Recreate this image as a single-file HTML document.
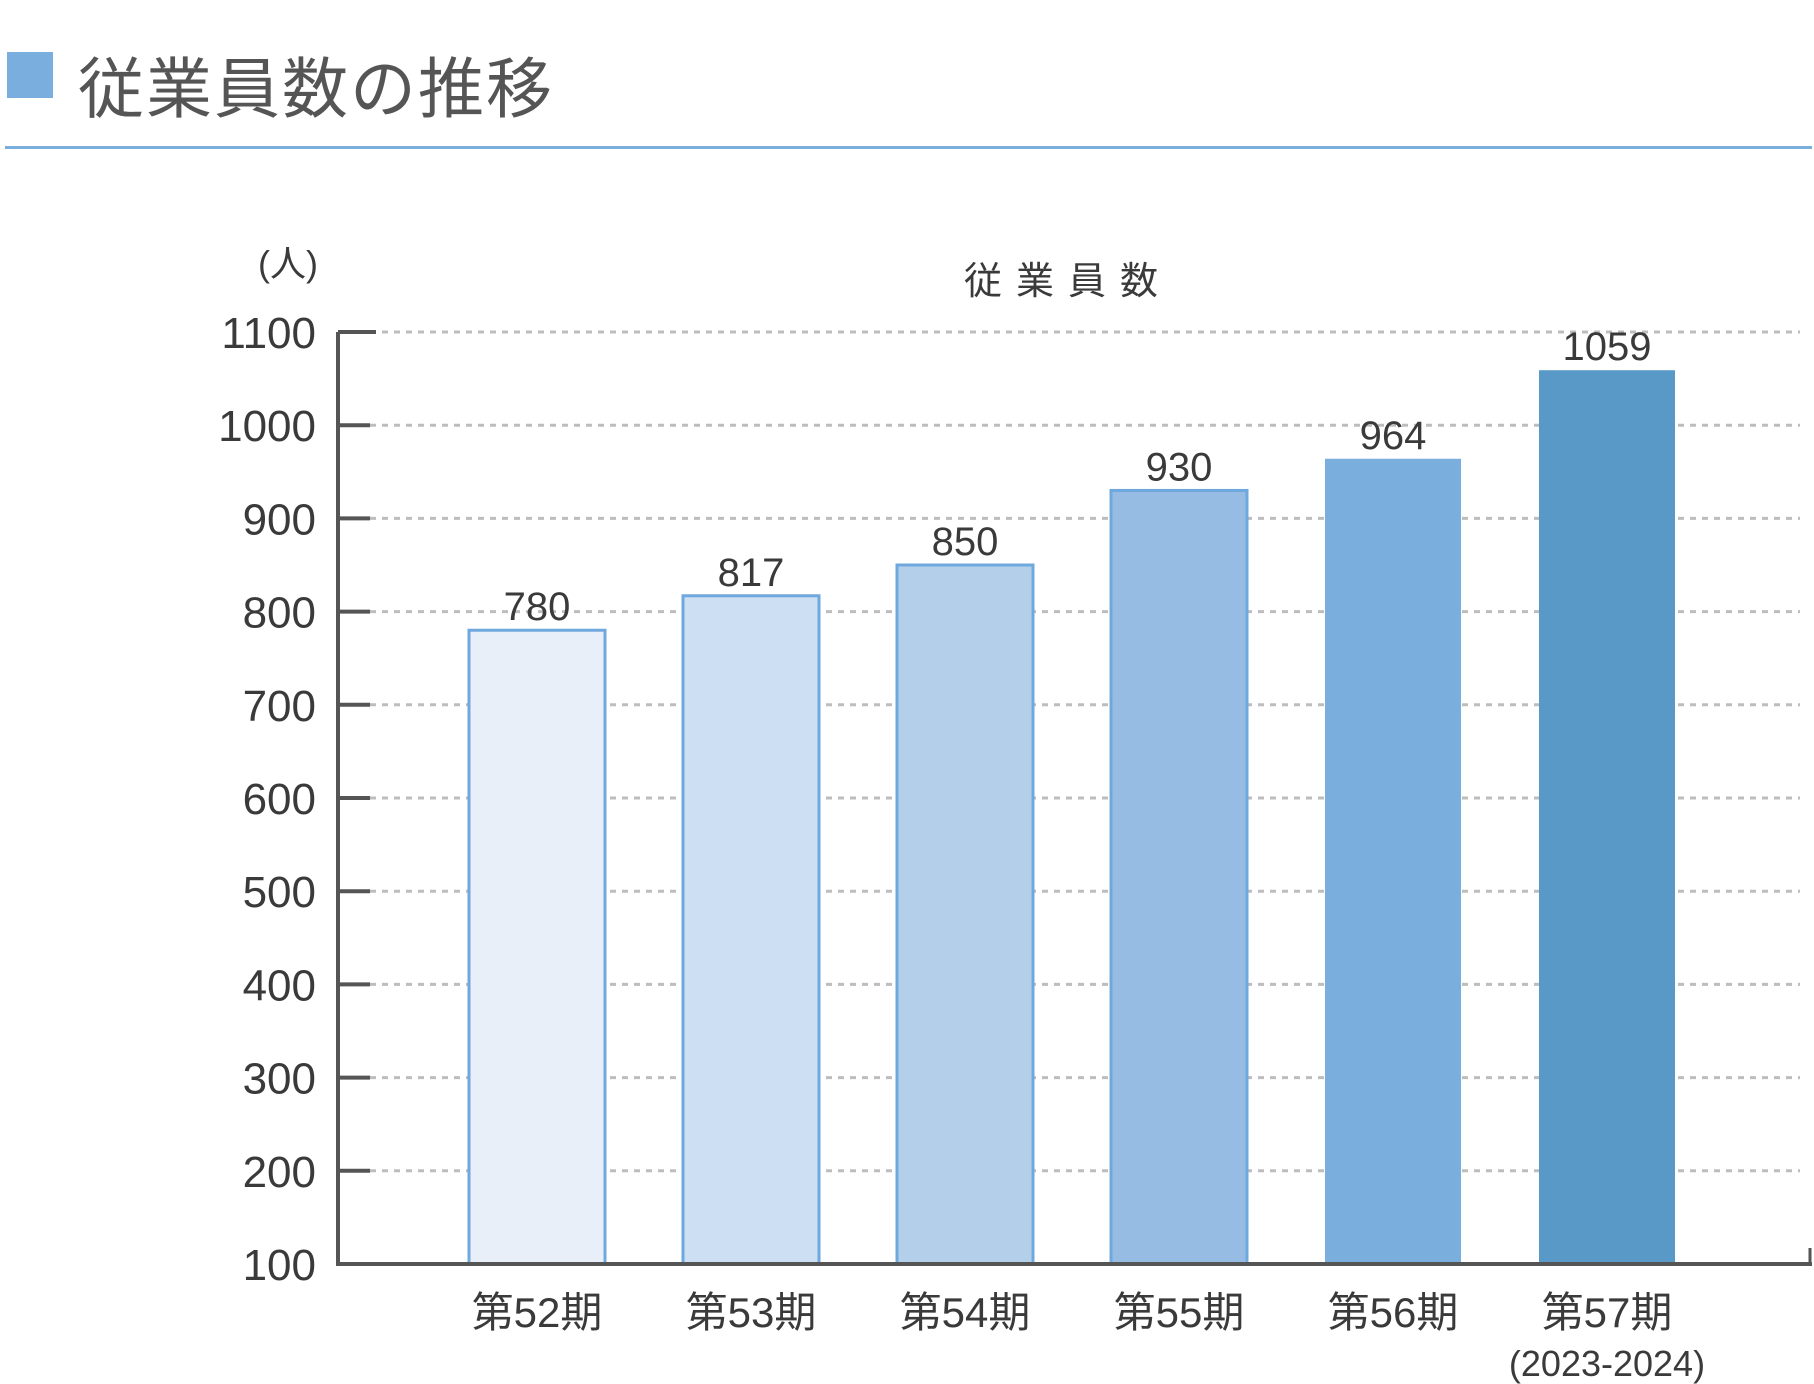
<!DOCTYPE html>
<html><head><meta charset="utf-8">
<style>
html,body{margin:0;padding:0;background:#fff;}
body{width:1814px;height:1384px;position:relative;overflow:hidden;font-family:"Liberation Sans","Noto Sans CJK JP",sans-serif;color:#3a3a3a;}
#title-square{position:absolute;left:7px;top:52px;width:46px;height:46px;background:#79aede;}
#title{position:absolute;left:78px;top:36px;font-size:66px;color:#555;letter-spacing:2px;white-space:nowrap;}
#header-line{position:absolute;left:5px;top:146px;width:1807px;height:3px;background:#7aaedc;}
svg{position:absolute;left:0;top:0;}
</style></head>
<body>
<div id="title-square"></div>
<div id="title">従業員数の推移</div>
<div id="header-line"></div>
<svg id="chart" width="1814" height="1384"></svg>
<script>
const categories=["第52期","第53期","第54期","第55期","第56期","第57期"];
const values=[780,817,850,930,964,1059];
const tickValues=[100,200,300,400,500,600,700,800,900,1000,1100];
const barColors=["#e8eff9","#cddff3","#b3cfea","#97bce3","#7aaedc","#5899c8"];
const NS="http://www.w3.org/2000/svg";
const svg=document.getElementById('chart');
const y0=1264,y1=332,vMin=100,vMax=1100;
function yScale(v){return y0-(v-vMin)/(vMax-vMin)*(y0-y1);}
function xCenter(i){return 537+i*214;}
const barW=136;
function mk(tag,attrs,name,text){const e=document.createElementNS(NS,tag);for(const k in attrs)e.setAttribute(k,attrs[k]);


if(text!==undefined)e.textContent=text;svg.appendChild(e);return e;}
// grid
tickValues.forEach(v=>{const y=yScale(v);
 if(v>vMin) mk('line',{x1:370,x2:1800,y1:y,y2:y,stroke:'#bdbdbd','stroke-width':3,'stroke-dasharray':'6 6'},'gridline-'+v);
 mk('line',{x1:338,x2:v===vMax?376:370,y1:y,y2:y,stroke:'#555','stroke-width':4},'y-tick-'+v);
 mk('text',{x:316,y:y+16,'text-anchor':'end','font-size':44,fill:'#3a3a3a'},'y-tick-label-'+v,String(v));
});
// bars
values.forEach((v,i)=>{const cx=xCenter(i),y=yScale(v);
 mk('rect',{x:cx-barW/2,y:y,width:barW,height:y0-y,fill:barColors[i],stroke:i<4?'#6fa8dc':'none','stroke-width':3},'bar-'+categories[i]);
 mk('text',{x:cx,y:y-10,'text-anchor':'middle','font-size':40,fill:'#3a3a3a'},'value-label-'+i,String(v));
 mk('text',{x:cx,y:1327,'text-anchor':'middle','font-size':42,fill:'#3a3a3a'},'x-label-'+i,categories[i]);
});
mk('text',{x:xCenter(5),y:1376,'text-anchor':'middle','font-size':36,fill:'#3a3a3a'},'x-sublabel-period','(2023-2024)');
// axes
mk('line',{x1:338,x2:338,y1:332,y2:1266,stroke:'#555','stroke-width':4},'y-axis');
mk('line',{x1:336,x2:1812,y1:1264,y2:1264,stroke:'#555','stroke-width':4},'x-axis');
mk('line',{x1:1810,x2:1810,y1:1248,y2:1266,stroke:'#555','stroke-width':3},'x-axis-end');
mk('text',{x:288,y:276,'text-anchor':'middle','font-size':36,fill:'#3a3a3a'},'y-axis-unit','(人)');
mk('text',{x:1068,y:294,'text-anchor':'middle','font-size':38,fill:'#3a3a3a','letter-spacing':'14'},'chart-title','従業員数');
</script>
</body></html>
